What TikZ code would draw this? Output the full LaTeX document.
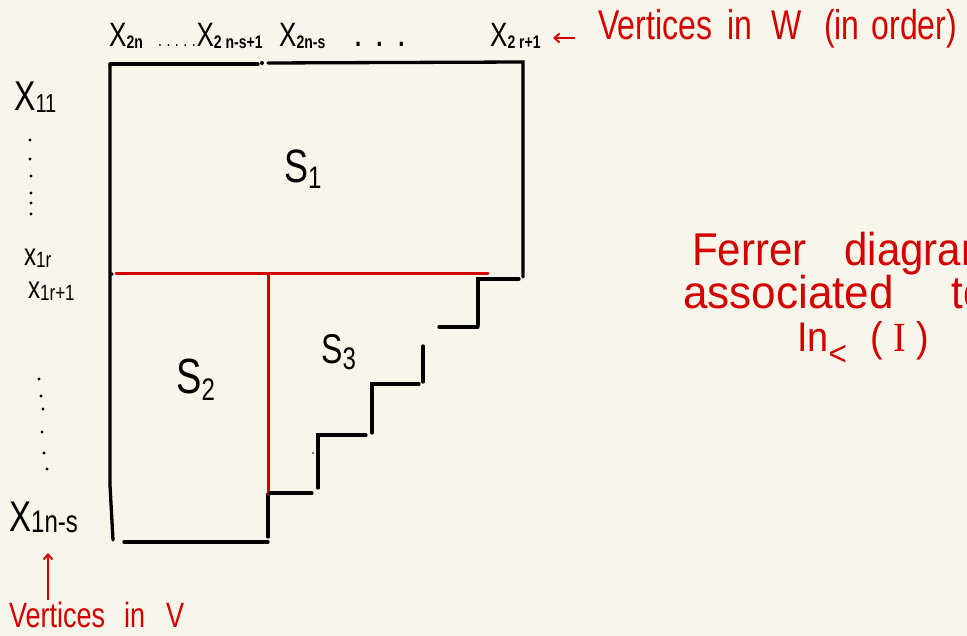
\documentclass[tikz,border=0pt]{standalone}
\usepackage{fontspec}
\setmainfont{Liberation Sans}
\newfontfamily\serifrm{Liberation Serif}
\usepackage{graphicx}
\usetikzlibrary{arrows.meta}
\definecolor{bg}{RGB}{248,246,234}
\definecolor{pen}{RGB}{212,0,0}
\newcommand\hw[1]{\scalebox{1}[1.3]{#1}}
\newcommand\hwr[1]{\scalebox{1.05}[1.15]{#1}}
\newcommand\fs[1]{\fontsize{#1}{#1}\selectfont}
\newcommand\Xl[1]{X\raisebox{-1.5pt}{\fs{14}\bfseries #1}}
\begin{document}
\begin{tikzpicture}[x=1pt,y=-1pt,
  blk/.style={line width=3.3pt,line cap=round,black},
  rd/.style={line width=3pt,line cap=round,pen},
  lbl/.style={inner sep=0pt,anchor=base west},
  redtxt/.style={lbl,text=pen},
  redarrow/.style={line width=2pt,pen,-{Straight Barb[length=5pt,width=9pt]}},
  hdot/.style={fill=black,draw=none}]
\useasboundingbox (0,0) rectangle (967,636);
\fill[bg] (0,0) rectangle (967,636);
\clip (0,0) rectangle (967,636);

% top labels
\node[lbl] (x2n) at (109,47) {\hw{\fs{26}\Xl{2n}}};
\node[lbl] (x2ns1) at (158,47) {\hw{\fs{26}{\fs{14}.\hspace{4.5pt}.\hspace{4.5pt}.\hspace{4.5pt}.\hspace{4.5pt}.}\hspace{1pt}\Xl{2 n-s+1}}};
\node[lbl] (x2ns) at (279,47) {\hw{\fs{26}\Xl{2n-s}}};
\node[lbl] (tdots) at (355,47) {\hw{\fs{22}\bfseries .\hspace{15pt}.\hspace{16pt}.}};
\node[lbl] (x2r) at (490,47) {\hw{\fs{26}\Xl{2 r+1}}};
\node[redtxt] (vw) at (598,40) {\hw{\fs{32}Vertices\hspace{15pt}in\hspace{20pt}W\hspace{22pt}(in\hspace{12pt}order)}};
\coordinate (vwtail) at (575,38);
\draw[redarrow] (vwtail) -- (553,38);

% left labels
\node[lbl] (x11) at (14,111) {\hw{\fs{32}X\raisebox{-1pt}{\fs{20}11}}};
\node[lbl] (x1r) at (24,266) {\hw{\fs{24}x\raisebox{-1pt}{\fs{17}1r}}};
\node[lbl] (x1r1) at (28,299) {\hw{\fs{24}x\raisebox{-1pt}{\fs{17}1r+1}}};
\node[lbl] (x1ns) at (9,531) {\hw{\fs{33}X\raisebox{-1pt}{\fs{24}1n-s}}};
\node[redtxt] (vv) at (9,627) {\hw{\fs{27}Vertices\hspace{19pt}in\hspace{21pt}V}};
\coordinate (vvtail) at (48,600);
\draw[redarrow] (vvtail) -- (48,553);

% vertical dots
\foreach \p in {(30,140),(30,159),(31,176),(31,193),(31,203),(31,214)}
  \fill[hdot] \p circle (1.7pt);
\foreach \p in {(39,379),(41,396),(43,409),(42,432),(44,453),(47,469)}
  \fill[hdot] \p circle (1.7pt);

% main frame
\draw[blk] (110,64) -- (258,64);
\fill[hdot] (262,63) circle (2pt);
\draw[blk] (268,63) -- (523,62) -- (523,277);
\draw[blk] (110,64) -- (110,485) -- (113,540);
\fill[hdot] (112,274) circle (1.8pt);
\draw[blk] (124,542) -- (268,542);
\draw[blk] (268,494) -- (268,537);

% red lines
\draw[rd] (116,274) -- (488,274);
\draw[rd] (268,274) -- (268,494);

% staircase
\draw[blk] (519,279) -- (478,279) -- (478,325);
\draw[blk] (439,327) -- (478,327);
\draw[blk] (423,346) -- (423,382);
\draw[blk] (419,384) -- (372,384) -- (372,433);
\draw[blk] (366,435) -- (318,435) -- (318,488);
\draw[blk] (270,493) -- (312,493);
\fill[hdot] (313,453) circle (0.9pt);

% region labels
\node[lbl] (s1) at (284,183) {\hw{\fs{36}S\raisebox{-4pt}{\fs{24}1}}};
\node[lbl] (s2) at (176,393) {\hw{\fs{38}S\raisebox{-6pt}{\fs{24}2}}};
\node[lbl] (s3) at (321,364) {\hw{\fs{32}S\raisebox{-4pt}{\fs{24}3}}};

% right red text
\node[text=pen, inner sep=0pt, anchor=north west, align=left,
      font={\lineskiplimit=-200pt\fontsize{40}{43}\selectfont}] (ferrer) at (683,232)
  {\hspace*{9pt}\hwr{Ferrer\hspace{36pt}diagram}\\
   \hwr{\scalebox{1.05}[1]{associated}\hspace{55pt}to}\\
   \hspace*{114pt}\hwr{\fs{36}In\raisebox{-12pt}{\fs{30}<}\hspace{22pt}(\hspace{10pt}{\serifrm I}\hspace{10pt})}};
\end{tikzpicture}
\end{document}
